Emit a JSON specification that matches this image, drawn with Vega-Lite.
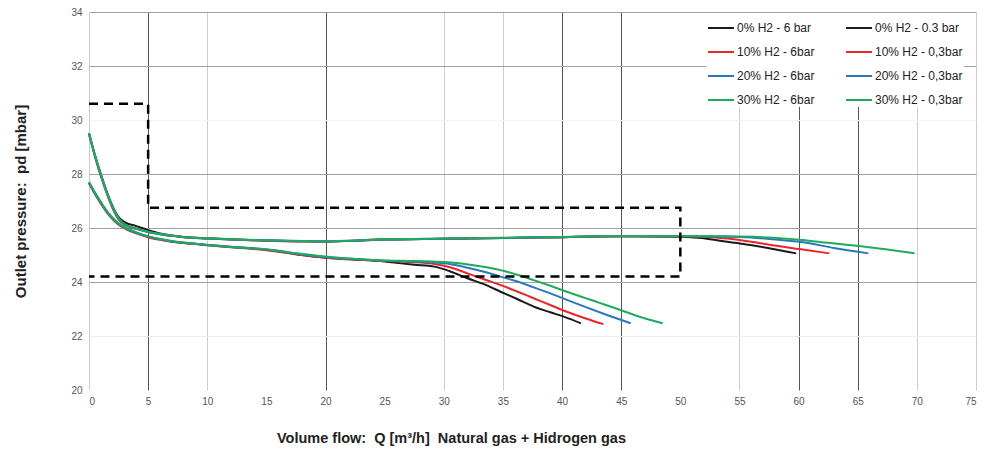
{
  "$schema": "https://vega.github.io/schema/vega-lite/v6.json",
  "width": 887,
  "height": 378,
  "autosize": "none",
  "padding": {"left": 89, "top": 12, "right": 23, "bottom": 60},
  "background": "white",
  "config": {"view": {"stroke": null}, "font": "Liberation Sans"},
  "datasets": {
    "curves": [
      {"s": "0% H2 - 6 bar", "Q": 0, "p": 29.5}, {"s": "0% H2 - 6 bar", "Q": 0.5, "p": 28.7}, {"s": "0% H2 - 6 bar", "Q": 1, "p": 28.0}, {"s": "0% H2 - 6 bar", "Q": 1.5, "p": 27.35}, {"s": "0% H2 - 6 bar", "Q": 2, "p": 26.8}, {"s": "0% H2 - 6 bar", "Q": 2.5, "p": 26.4}, {"s": "0% H2 - 6 bar", "Q": 3, "p": 26.22}, {"s": "0% H2 - 6 bar", "Q": 4, "p": 26.07}, {"s": "0% H2 - 6 bar", "Q": 5, "p": 25.92}, {"s": "0% H2 - 6 bar", "Q": 6, "p": 25.8}, {"s": "0% H2 - 6 bar", "Q": 7, "p": 25.72}, {"s": "0% H2 - 6 bar", "Q": 8, "p": 25.67}, {"s": "0% H2 - 6 bar", "Q": 10, "p": 25.62}, {"s": "0% H2 - 6 bar", "Q": 12, "p": 25.58}, {"s": "0% H2 - 6 bar", "Q": 15, "p": 25.54}, {"s": "0% H2 - 6 bar", "Q": 18, "p": 25.51}, {"s": "0% H2 - 6 bar", "Q": 20, "p": 25.5}, {"s": "0% H2 - 6 bar", "Q": 22, "p": 25.52}, {"s": "0% H2 - 6 bar", "Q": 25, "p": 25.57}, {"s": "0% H2 - 6 bar", "Q": 30, "p": 25.6}, {"s": "0% H2 - 6 bar", "Q": 35, "p": 25.63}, {"s": "0% H2 - 6 bar", "Q": 40, "p": 25.66}, {"s": "0% H2 - 6 bar", "Q": 45, "p": 25.69}, {"s": "0% H2 - 6 bar", "Q": 50, "p": 25.68}, {"s": "0% H2 - 6 bar", "Q": 51.8, "p": 25.63}, {"s": "0% H2 - 6 bar", "Q": 53.5, "p": 25.52}, {"s": "0% H2 - 6 bar", "Q": 55.2, "p": 25.42}, {"s": "0% H2 - 6 bar", "Q": 57.4, "p": 25.26}, {"s": "0% H2 - 6 bar", "Q": 59.8, "p": 25.06},

      {"s": "0% H2 - 0.3 bar", "Q": 0, "p": 27.68}, {"s": "0% H2 - 0.3 bar", "Q": 0.5, "p": 27.3}, {"s": "0% H2 - 0.3 bar", "Q": 1, "p": 26.95}, {"s": "0% H2 - 0.3 bar", "Q": 1.5, "p": 26.62}, {"s": "0% H2 - 0.3 bar", "Q": 2, "p": 26.36}, {"s": "0% H2 - 0.3 bar", "Q": 2.5, "p": 26.16}, {"s": "0% H2 - 0.3 bar", "Q": 3, "p": 26.02}, {"s": "0% H2 - 0.3 bar", "Q": 4, "p": 25.83}, {"s": "0% H2 - 0.3 bar", "Q": 5, "p": 25.68}, {"s": "0% H2 - 0.3 bar", "Q": 6, "p": 25.58}, {"s": "0% H2 - 0.3 bar", "Q": 7, "p": 25.5}, {"s": "0% H2 - 0.3 bar", "Q": 8, "p": 25.45}, {"s": "0% H2 - 0.3 bar", "Q": 10, "p": 25.37}, {"s": "0% H2 - 0.3 bar", "Q": 12, "p": 25.3}, {"s": "0% H2 - 0.3 bar", "Q": 15, "p": 25.19}, {"s": "0% H2 - 0.3 bar", "Q": 18, "p": 25.0}, {"s": "0% H2 - 0.3 bar", "Q": 20, "p": 24.9}, {"s": "0% H2 - 0.3 bar", "Q": 22, "p": 24.84}, {"s": "0% H2 - 0.3 bar", "Q": 25, "p": 24.76}, {"s": "0% H2 - 0.3 bar", "Q": 26.4, "p": 24.69}, {"s": "0% H2 - 0.3 bar", "Q": 27.5, "p": 24.64}, {"s": "0% H2 - 0.3 bar", "Q": 29.2, "p": 24.57}, {"s": "0% H2 - 0.3 bar", "Q": 30.5, "p": 24.4}, {"s": "0% H2 - 0.3 bar", "Q": 32, "p": 24.14}, {"s": "0% H2 - 0.3 bar", "Q": 33.5, "p": 23.9}, {"s": "0% H2 - 0.3 bar", "Q": 34.8, "p": 23.64}, {"s": "0% H2 - 0.3 bar", "Q": 36.2, "p": 23.37}, {"s": "0% H2 - 0.3 bar", "Q": 37.6, "p": 23.09}, {"s": "0% H2 - 0.3 bar", "Q": 39, "p": 22.88}, {"s": "0% H2 - 0.3 bar", "Q": 40.2, "p": 22.71}, {"s": "0% H2 - 0.3 bar", "Q": 41.6, "p": 22.47},

      {"s": "10% H2 - 6bar", "Q": 0, "p": 29.48}, {"s": "10% H2 - 6bar", "Q": 0.5, "p": 28.65}, {"s": "10% H2 - 6bar", "Q": 1, "p": 27.92}, {"s": "10% H2 - 6bar", "Q": 1.5, "p": 27.28}, {"s": "10% H2 - 6bar", "Q": 2, "p": 26.72}, {"s": "10% H2 - 6bar", "Q": 2.5, "p": 26.32}, {"s": "10% H2 - 6bar", "Q": 3, "p": 26.12}, {"s": "10% H2 - 6bar", "Q": 4, "p": 25.97}, {"s": "10% H2 - 6bar", "Q": 5, "p": 25.85}, {"s": "10% H2 - 6bar", "Q": 6, "p": 25.77}, {"s": "10% H2 - 6bar", "Q": 7, "p": 25.71}, {"s": "10% H2 - 6bar", "Q": 8, "p": 25.66}, {"s": "10% H2 - 6bar", "Q": 10, "p": 25.61}, {"s": "10% H2 - 6bar", "Q": 12, "p": 25.57}, {"s": "10% H2 - 6bar", "Q": 15, "p": 25.53}, {"s": "10% H2 - 6bar", "Q": 18, "p": 25.5}, {"s": "10% H2 - 6bar", "Q": 20, "p": 25.5}, {"s": "10% H2 - 6bar", "Q": 22, "p": 25.53}, {"s": "10% H2 - 6bar", "Q": 25, "p": 25.58}, {"s": "10% H2 - 6bar", "Q": 30, "p": 25.6}, {"s": "10% H2 - 6bar", "Q": 35, "p": 25.63}, {"s": "10% H2 - 6bar", "Q": 40, "p": 25.66}, {"s": "10% H2 - 6bar", "Q": 45, "p": 25.69}, {"s": "10% H2 - 6bar", "Q": 50, "p": 25.69}, {"s": "10% H2 - 6bar", "Q": 52, "p": 25.68}, {"s": "10% H2 - 6bar", "Q": 54, "p": 25.61}, {"s": "10% H2 - 6bar", "Q": 56, "p": 25.49}, {"s": "10% H2 - 6bar", "Q": 57.4, "p": 25.39}, {"s": "10% H2 - 6bar", "Q": 60.2, "p": 25.21}, {"s": "10% H2 - 6bar", "Q": 62.6, "p": 25.06},

      {"s": "10% H2 - 0,3bar", "Q": 0, "p": 27.66}, {"s": "10% H2 - 0,3bar", "Q": 0.5, "p": 27.26}, {"s": "10% H2 - 0,3bar", "Q": 1, "p": 26.9}, {"s": "10% H2 - 0,3bar", "Q": 1.5, "p": 26.58}, {"s": "10% H2 - 0,3bar", "Q": 2, "p": 26.32}, {"s": "10% H2 - 0,3bar", "Q": 2.5, "p": 26.12}, {"s": "10% H2 - 0,3bar", "Q": 3, "p": 25.99}, {"s": "10% H2 - 0,3bar", "Q": 4, "p": 25.8}, {"s": "10% H2 - 0,3bar", "Q": 5, "p": 25.66}, {"s": "10% H2 - 0,3bar", "Q": 6, "p": 25.56}, {"s": "10% H2 - 0,3bar", "Q": 7, "p": 25.49}, {"s": "10% H2 - 0,3bar", "Q": 8, "p": 25.44}, {"s": "10% H2 - 0,3bar", "Q": 10, "p": 25.36}, {"s": "10% H2 - 0,3bar", "Q": 12, "p": 25.29}, {"s": "10% H2 - 0,3bar", "Q": 15, "p": 25.18}, {"s": "10% H2 - 0,3bar", "Q": 18, "p": 25.0}, {"s": "10% H2 - 0,3bar", "Q": 20, "p": 24.9}, {"s": "10% H2 - 0,3bar", "Q": 22, "p": 24.85}, {"s": "10% H2 - 0,3bar", "Q": 25, "p": 24.78}, {"s": "10% H2 - 0,3bar", "Q": 27, "p": 24.74}, {"s": "10% H2 - 0,3bar", "Q": 29.2, "p": 24.67}, {"s": "10% H2 - 0,3bar", "Q": 30.6, "p": 24.54}, {"s": "10% H2 - 0,3bar", "Q": 32, "p": 24.32}, {"s": "10% H2 - 0,3bar", "Q": 33.4, "p": 24.1}, {"s": "10% H2 - 0,3bar", "Q": 34.8, "p": 23.89}, {"s": "10% H2 - 0,3bar", "Q": 36.2, "p": 23.65}, {"s": "10% H2 - 0,3bar", "Q": 37.6, "p": 23.4}, {"s": "10% H2 - 0,3bar", "Q": 39, "p": 23.15}, {"s": "10% H2 - 0,3bar", "Q": 40.4, "p": 22.9}, {"s": "10% H2 - 0,3bar", "Q": 42, "p": 22.65}, {"s": "10% H2 - 0,3bar", "Q": 43.5, "p": 22.44},

      {"s": "20% H2 - 6bar", "Q": 0, "p": 29.5}, {"s": "20% H2 - 6bar", "Q": 0.5, "p": 28.68}, {"s": "20% H2 - 6bar", "Q": 1, "p": 27.96}, {"s": "20% H2 - 6bar", "Q": 1.5, "p": 27.32}, {"s": "20% H2 - 6bar", "Q": 2, "p": 26.76}, {"s": "20% H2 - 6bar", "Q": 2.5, "p": 26.34}, {"s": "20% H2 - 6bar", "Q": 3, "p": 26.13}, {"s": "20% H2 - 6bar", "Q": 4, "p": 25.97}, {"s": "20% H2 - 6bar", "Q": 5, "p": 25.85}, {"s": "20% H2 - 6bar", "Q": 6, "p": 25.77}, {"s": "20% H2 - 6bar", "Q": 7, "p": 25.71}, {"s": "20% H2 - 6bar", "Q": 8, "p": 25.66}, {"s": "20% H2 - 6bar", "Q": 10, "p": 25.61}, {"s": "20% H2 - 6bar", "Q": 12, "p": 25.57}, {"s": "20% H2 - 6bar", "Q": 15, "p": 25.54}, {"s": "20% H2 - 6bar", "Q": 18, "p": 25.51}, {"s": "20% H2 - 6bar", "Q": 20, "p": 25.5}, {"s": "20% H2 - 6bar", "Q": 22, "p": 25.52}, {"s": "20% H2 - 6bar", "Q": 25, "p": 25.57}, {"s": "20% H2 - 6bar", "Q": 30, "p": 25.6}, {"s": "20% H2 - 6bar", "Q": 35, "p": 25.63}, {"s": "20% H2 - 6bar", "Q": 40, "p": 25.66}, {"s": "20% H2 - 6bar", "Q": 45, "p": 25.69}, {"s": "20% H2 - 6bar", "Q": 50, "p": 25.69}, {"s": "20% H2 - 6bar", "Q": 54, "p": 25.68}, {"s": "20% H2 - 6bar", "Q": 56, "p": 25.65}, {"s": "20% H2 - 6bar", "Q": 58, "p": 25.57}, {"s": "20% H2 - 6bar", "Q": 60.2, "p": 25.48}, {"s": "20% H2 - 6bar", "Q": 63.1, "p": 25.25}, {"s": "20% H2 - 6bar", "Q": 65.9, "p": 25.06},

      {"s": "20% H2 - 0,3bar", "Q": 0, "p": 27.68}, {"s": "20% H2 - 0,3bar", "Q": 0.5, "p": 27.29}, {"s": "20% H2 - 0,3bar", "Q": 1, "p": 26.94}, {"s": "20% H2 - 0,3bar", "Q": 1.5, "p": 26.61}, {"s": "20% H2 - 0,3bar", "Q": 2, "p": 26.35}, {"s": "20% H2 - 0,3bar", "Q": 2.5, "p": 26.15}, {"s": "20% H2 - 0,3bar", "Q": 3, "p": 26.01}, {"s": "20% H2 - 0,3bar", "Q": 4, "p": 25.82}, {"s": "20% H2 - 0,3bar", "Q": 5, "p": 25.68}, {"s": "20% H2 - 0,3bar", "Q": 6, "p": 25.58}, {"s": "20% H2 - 0,3bar", "Q": 7, "p": 25.5}, {"s": "20% H2 - 0,3bar", "Q": 8, "p": 25.45}, {"s": "20% H2 - 0,3bar", "Q": 10, "p": 25.37}, {"s": "20% H2 - 0,3bar", "Q": 12, "p": 25.3}, {"s": "20% H2 - 0,3bar", "Q": 15, "p": 25.2}, {"s": "20% H2 - 0,3bar", "Q": 18, "p": 25.02}, {"s": "20% H2 - 0,3bar", "Q": 20, "p": 24.92}, {"s": "20% H2 - 0,3bar", "Q": 22, "p": 24.86}, {"s": "20% H2 - 0,3bar", "Q": 25, "p": 24.79}, {"s": "20% H2 - 0,3bar", "Q": 27, "p": 24.76}, {"s": "20% H2 - 0,3bar", "Q": 29, "p": 24.73}, {"s": "20% H2 - 0,3bar", "Q": 30.6, "p": 24.66}, {"s": "20% H2 - 0,3bar", "Q": 32, "p": 24.53}, {"s": "20% H2 - 0,3bar", "Q": 33.4, "p": 24.38}, {"s": "20% H2 - 0,3bar", "Q": 34.8, "p": 24.2}, {"s": "20% H2 - 0,3bar", "Q": 36.3, "p": 24.01}, {"s": "20% H2 - 0,3bar", "Q": 37.6, "p": 23.8}, {"s": "20% H2 - 0,3bar", "Q": 39, "p": 23.58}, {"s": "20% H2 - 0,3bar", "Q": 40.4, "p": 23.34}, {"s": "20% H2 - 0,3bar", "Q": 41.9, "p": 23.09}, {"s": "20% H2 - 0,3bar", "Q": 43.8, "p": 22.78}, {"s": "20% H2 - 0,3bar", "Q": 45.8, "p": 22.47},

      {"s": "30% H2 - 6bar", "Q": 0, "p": 29.52}, {"s": "30% H2 - 6bar", "Q": 0.5, "p": 28.7}, {"s": "30% H2 - 6bar", "Q": 1, "p": 27.98}, {"s": "30% H2 - 6bar", "Q": 1.5, "p": 27.34}, {"s": "30% H2 - 6bar", "Q": 2, "p": 26.78}, {"s": "30% H2 - 6bar", "Q": 2.5, "p": 26.36}, {"s": "30% H2 - 6bar", "Q": 3, "p": 26.14}, {"s": "30% H2 - 6bar", "Q": 4, "p": 25.98}, {"s": "30% H2 - 6bar", "Q": 5, "p": 25.86}, {"s": "30% H2 - 6bar", "Q": 6, "p": 25.78}, {"s": "30% H2 - 6bar", "Q": 7, "p": 25.72}, {"s": "30% H2 - 6bar", "Q": 8, "p": 25.67}, {"s": "30% H2 - 6bar", "Q": 10, "p": 25.62}, {"s": "30% H2 - 6bar", "Q": 12, "p": 25.58}, {"s": "30% H2 - 6bar", "Q": 15, "p": 25.55}, {"s": "30% H2 - 6bar", "Q": 18, "p": 25.52}, {"s": "30% H2 - 6bar", "Q": 20, "p": 25.51}, {"s": "30% H2 - 6bar", "Q": 22, "p": 25.53}, {"s": "30% H2 - 6bar", "Q": 25, "p": 25.58}, {"s": "30% H2 - 6bar", "Q": 30, "p": 25.61}, {"s": "30% H2 - 6bar", "Q": 35, "p": 25.64}, {"s": "30% H2 - 6bar", "Q": 40, "p": 25.67}, {"s": "30% H2 - 6bar", "Q": 45, "p": 25.7}, {"s": "30% H2 - 6bar", "Q": 50, "p": 25.7}, {"s": "30% H2 - 6bar", "Q": 54, "p": 25.69}, {"s": "30% H2 - 6bar", "Q": 56.9, "p": 25.66}, {"s": "30% H2 - 6bar", "Q": 60.3, "p": 25.56}, {"s": "30% H2 - 6bar", "Q": 62.5, "p": 25.45}, {"s": "30% H2 - 6bar", "Q": 65.1, "p": 25.33}, {"s": "30% H2 - 6bar", "Q": 67.5, "p": 25.2}, {"s": "30% H2 - 6bar", "Q": 69.8, "p": 25.06},

      {"s": "30% H2 - 0,3bar", "Q": 0, "p": 27.7}, {"s": "30% H2 - 0,3bar", "Q": 0.5, "p": 27.31}, {"s": "30% H2 - 0,3bar", "Q": 1, "p": 26.96}, {"s": "30% H2 - 0,3bar", "Q": 1.5, "p": 26.63}, {"s": "30% H2 - 0,3bar", "Q": 2, "p": 26.37}, {"s": "30% H2 - 0,3bar", "Q": 2.5, "p": 26.17}, {"s": "30% H2 - 0,3bar", "Q": 3, "p": 26.03}, {"s": "30% H2 - 0,3bar", "Q": 4, "p": 25.84}, {"s": "30% H2 - 0,3bar", "Q": 5, "p": 25.7}, {"s": "30% H2 - 0,3bar", "Q": 6, "p": 25.6}, {"s": "30% H2 - 0,3bar", "Q": 7, "p": 25.52}, {"s": "30% H2 - 0,3bar", "Q": 8, "p": 25.46}, {"s": "30% H2 - 0,3bar", "Q": 10, "p": 25.38}, {"s": "30% H2 - 0,3bar", "Q": 12, "p": 25.31}, {"s": "30% H2 - 0,3bar", "Q": 15, "p": 25.21}, {"s": "30% H2 - 0,3bar", "Q": 18, "p": 25.04}, {"s": "30% H2 - 0,3bar", "Q": 20, "p": 24.94}, {"s": "30% H2 - 0,3bar", "Q": 22, "p": 24.87}, {"s": "30% H2 - 0,3bar", "Q": 25, "p": 24.8}, {"s": "30% H2 - 0,3bar", "Q": 27, "p": 24.78}, {"s": "30% H2 - 0,3bar", "Q": 29, "p": 24.76}, {"s": "30% H2 - 0,3bar", "Q": 30.6, "p": 24.72}, {"s": "30% H2 - 0,3bar", "Q": 32.5, "p": 24.62}, {"s": "30% H2 - 0,3bar", "Q": 34.8, "p": 24.44}, {"s": "30% H2 - 0,3bar", "Q": 36.2, "p": 24.27}, {"s": "30% H2 - 0,3bar", "Q": 37.6, "p": 24.07}, {"s": "30% H2 - 0,3bar", "Q": 39, "p": 23.86}, {"s": "30% H2 - 0,3bar", "Q": 40.4, "p": 23.64}, {"s": "30% H2 - 0,3bar", "Q": 41.8, "p": 23.43}, {"s": "30% H2 - 0,3bar", "Q": 43.3, "p": 23.21}, {"s": "30% H2 - 0,3bar", "Q": 44.7, "p": 23.0}, {"s": "30% H2 - 0,3bar", "Q": 46.1, "p": 22.78}, {"s": "30% H2 - 0,3bar", "Q": 48.5, "p": 22.47}
    ],
    "tolerance": [
      {"i": 1, "Q": 0, "p": 30.6},
      {"i": 2, "Q": 5, "p": 30.6},
      {"i": 3, "Q": 5, "p": 26.75},
      {"i": 4, "Q": 50, "p": 26.75},
      {"i": 5, "Q": 50, "p": 24.2},
      {"i": 6, "Q": 0, "p": 24.2}
    ]
  },
  "layer": [
    {
      "data": {"name": "curves"},
      "mark": {"type": "line", "strokeWidth": 2, "interpolate": "monotone"},
      "encoding": {
        "x": {
          "field": "Q", "type": "quantitative",
          "scale": {"domain": [0, 75], "nice": false, "zero": false},
          "axis": {
            "values": [0, 5, 10, 15, 20, 25, 30, 35, 40, 45, 50, 55, 60, 65, 70, 75],
            "grid": true,
            "gridColor": {
              "condition": [
                {"test": "indexof([5,20,40,45,60,65], datum.value) >= 0", "value": "#555555"},
                {"test": "indexof([15,25,50], datum.value) >= 0", "value": "rgba(0,0,0,0)"}
              ],
              "value": "#cccccc"
            },
            "gridWidth": 1,
            "domain": false,
            "ticks": false,
            "labelPadding": 6,
            "labelFont": "Liberation Sans",
            "labelFontSize": 10,
            "labelColor": "#555555",
            "title": "Volume flow:\u00a0 Q [m³/h]\u00a0 Natural gas + Hidrogen gas",
            "titleFont": "Liberation Sans",
            "titleFontSize": 14.5,
            "titleFontWeight": "bold",
            "titleColor": "#222222",
            "titleAnchor": "start",
            "titleAlign": "center",
            "titleX": 362,
            "titleY": 52,
            "titleBaseline": "alphabetic"
          }
        },
        "y": {
          "field": "p", "type": "quantitative",
          "scale": {"domain": [20, 34], "nice": false, "zero": false},
          "axis": {
            "values": [20, 21, 22, 23, 24, 25, 26, 27, 28, 29, 30, 31, 32, 33, 34],
            "labelExpr": "datum.value % 2 === 0 ? datum.label : ''",
            "grid": true,
            "gridColor": {
              "condition": [
                {"test": "indexof([34,32,28,26,24], datum.value) >= 0", "value": "#a0a0a0"},
                {"test": "indexof([27,25,23,21], datum.value) >= 0", "value": "#dddddd"},
                {"test": "datum.value == 22", "value": "#ececec"},
                {"test": "datum.value == 20", "value": "rgba(0,0,0,0)"}
              ],
              "value": "#f3f3f3"
            },
            "domain": false,
            "ticks": false,
            "labelPadding": 7,
            "labelFont": "Liberation Sans",
            "labelFontSize": 10,
            "labelColor": "#555555",
            "title": "Outlet pressure:\u00a0 pd [mbar]",
            "titleFontSize": 15,
            "titleFontWeight": "bold",
            "titleColor": "#222222",
            "titleAngle": 270,
            "titleAlign": "center",
            "titleBaseline": "middle",
            "titleX": -69,
            "titleY": 189
          }
        },
        "color": {
          "field": "s", "type": "nominal",
          "scale": {
            "domain": ["0% H2 - 6 bar", "10% H2 - 6bar", "20% H2 - 6bar", "30% H2 - 6bar", "0% H2 - 0.3 bar", "10% H2 - 0,3bar", "20% H2 - 0,3bar", "30% H2 - 0,3bar"],
            "range": ["#1a1a1a", "#e8262b", "#2878c0", "#1faa5f", "#1a1a1a", "#e8262b", "#2878c0", "#1faa5f"]
          },
          "legend": {
            "title": null,
            "orient": "none",
            "legendX": 617,
            "legendY": 1,
            "columns": 2,
            "columnPadding": 27,
            "rowPadding": 4,
            "padding": 1,
            "fillColor": "white",
            "symbolType": "stroke",
            "symbolSize": 676,
            "symbolStrokeWidth": 2,
            "labelOffset": 2,
            "labelFont": "Liberation Sans",
            "labelFontSize": 12,
            "labelColor": "#222222",
            "labelLimit": 200
          }
        }
      }
    },
    {
      "data": {"name": "tolerance"},
      "mark": {"type": "line", "color": "black", "strokeWidth": 2.5, "strokeDash": [9, 6]},
      "encoding": {
        "x": {"field": "Q", "type": "quantitative"},
        "y": {"field": "p", "type": "quantitative"},
        "order": {"field": "i", "type": "quantitative"}
      }
    }
  ]
}
